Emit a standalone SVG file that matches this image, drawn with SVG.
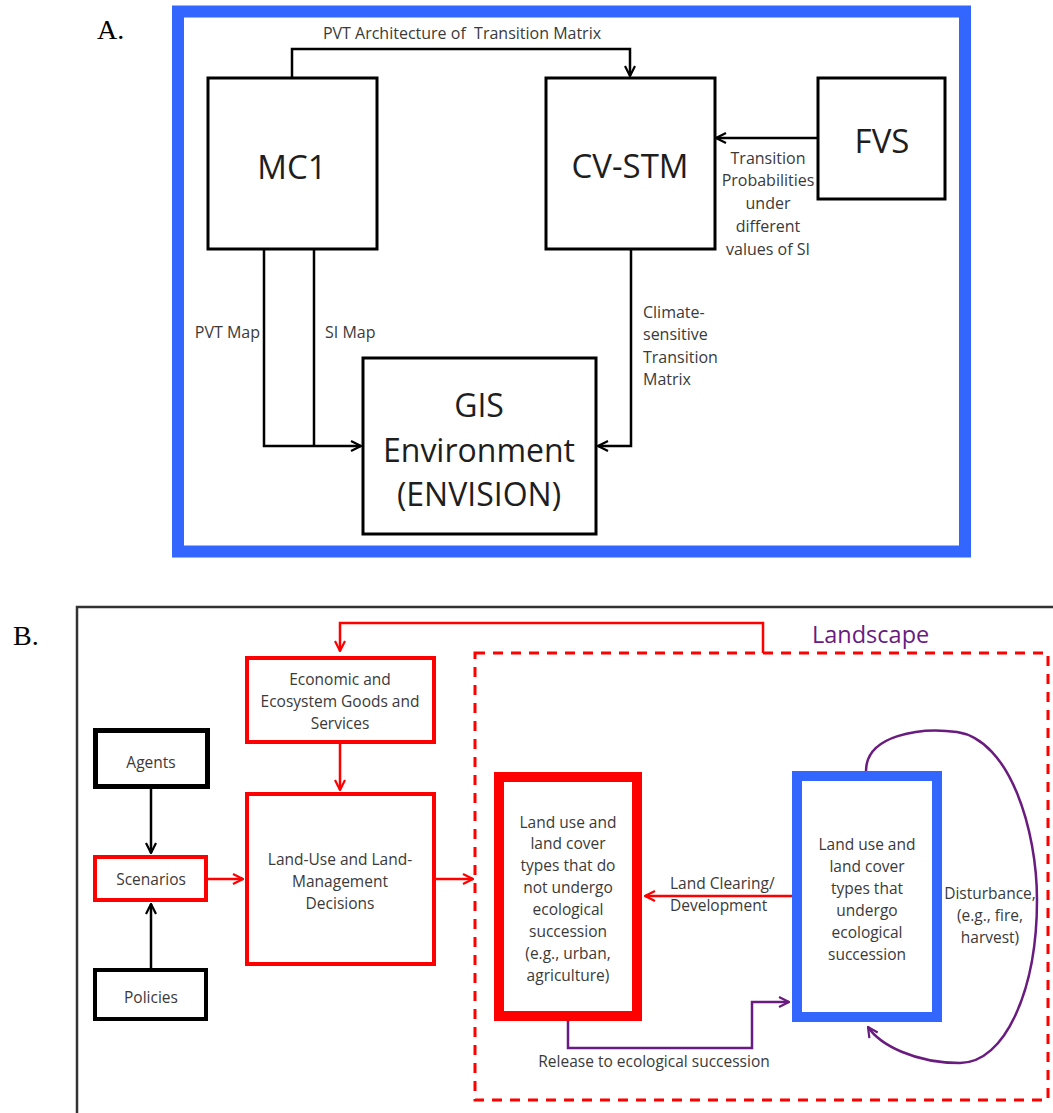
<svg xmlns="http://www.w3.org/2000/svg" width="1053" height="1113" viewBox="0 0 1053 1113">
<style>
.t{font-family:"Open Sans","Liberation Sans",sans-serif;fill:#3a3a3a;font-size:16px;text-anchor:middle}
.big{font-size:33px;fill:#1e1e1e}
.gis{font-size:32px;fill:#1e1e1e}
.lbl{font-family:"Liberation Serif",serif;font-size:28px;fill:#000}
.bx{fill:#fff;stroke:#000;stroke-width:3}
.rb{fill:#fff;stroke:#ff0000;stroke-width:4}
.k{fill:none;stroke:#000;stroke-width:2.5}
.r{fill:none;stroke:#ff0000;stroke-width:2.5}
.p{fill:none;stroke:#6a1b7f;stroke-width:2.5}
</style>
<defs>
<marker id="ak" viewBox="0 0 12 12" refX="11" refY="6" markerWidth="12" markerHeight="12" markerUnits="userSpaceOnUse" orient="auto"><path d="M1,1 L11,6 L1,11" fill="none" stroke="#000" stroke-width="2.2"/></marker>
<marker id="ar" viewBox="0 0 12 12" refX="11" refY="6" markerWidth="12" markerHeight="12" markerUnits="userSpaceOnUse" orient="auto"><path d="M1,1 L11,6 L1,11" fill="none" stroke="#ff0000" stroke-width="2.2"/></marker>
<marker id="ap" viewBox="0 0 12 12" refX="11" refY="6" markerWidth="12" markerHeight="12" markerUnits="userSpaceOnUse" orient="auto"><path d="M1,1 L11,6 L1,11" fill="none" stroke="#6a1b7f" stroke-width="2.2"/></marker>
</defs>
<rect width="1053" height="1113" fill="#fff"/>

<!-- Part A -->
<text class="lbl" x="97" y="39">A.</text>
<rect id="frameA" x="178" y="11.5" width="787" height="540" fill="none" stroke="#3366ff" stroke-width="12"/>

<g id="connectorsA">
<path class="k" d="M292 78 V49 H630 V76" marker-end="url(#ak)"/>
<path class="k" d="M264 248 V446 H361" marker-end="url(#ak)"/>
<path class="k" d="M314 248 V446"/>
<path class="k" d="M631 248 V446 H598" marker-end="url(#ak)"/>
<path class="k" d="M818 138 H716" marker-end="url(#ak)"/>
<text class="t" x="462" y="39" style="white-space:pre">PVT Architecture of  Transition Matrix</text>
<text class="t" x="260" y="338" text-anchor="end" style="text-anchor:end">PVT Map</text>
<text class="t" x="325" y="338" style="text-anchor:start">SI Map</text>
<text class="t" style="text-anchor:start"><tspan x="643" y="318">Climate-</tspan><tspan x="643" y="340">sensitive</tspan><tspan x="643" y="363">Transition</tspan><tspan x="643" y="385">Matrix</tspan></text>
<text class="t"><tspan x="768" y="164">Transition</tspan><tspan x="768" y="186">Probabilities</tspan><tspan x="768" y="209">under</tspan><tspan x="768" y="232">different</tspan><tspan x="768" y="255">values of SI</tspan></text>
</g>

<g id="MC1"><rect class="bx" x="208" y="78" width="169" height="171"/><text class="t big" x="292" y="179">MC1</text></g>
<g id="CVSTM"><rect class="bx" x="546" y="78" width="169" height="171"/><text class="t big" x="630" y="178">CV-STM</text></g>
<g id="FVS"><rect class="bx" x="818" y="78" width="127" height="121"/><text class="t big" x="882" y="153">FVS</text></g>
<g id="GIS"><rect class="bx" x="363" y="358" width="233" height="176"/><text class="t gis"><tspan x="479" y="417">GIS</tspan><tspan x="479" y="462">Environment</tspan><tspan x="479" y="506">(ENVISION)</tspan></text></g>

<!-- Part B -->
<text class="lbl" x="13" y="645">B.</text>
<rect id="frameB" x="77" y="607" width="1000" height="520" fill="none" stroke="#333" stroke-width="2.5"/>

<g id="landscape">
<rect x="475" y="653" width="573" height="447" fill="none" stroke="#ff0000" stroke-width="3" stroke-dasharray="10 8"/>
<text class="t" x="812" y="643" style="text-anchor:start;font-size:23.5px;fill:#6a1b7f">Landscape</text>
</g>

<g id="connectorsB">
<path class="r" d="M763 653 V623 H340 V651" marker-end="url(#ar)"/>
<path class="r" d="M340 743 V790" marker-end="url(#ar)"/>
<path class="k" d="M151 789 V853" marker-end="url(#ak)"/>
<path class="k" d="M151 968 V904" marker-end="url(#ak)"/>
<path class="r" d="M208 879 H243" marker-end="url(#ar)"/>
<path class="r" d="M436 879 H473" marker-end="url(#ar)"/>
<path class="r" d="M792 896 H645" marker-end="url(#ar)"/>
<text class="t" style="text-anchor:start;font-size:15.5px"><tspan x="670" y="889">Land Clearing/</tspan><tspan x="670" y="911">Development</tspan></text>
<path class="p" d="M568 1021 V1048 H752 V1002 H789" marker-end="url(#ap)"/>
<text class="t" x="654" y="1067" style="font-size:15.5px">Release to ecological succession</text>
<path class="p" d="M866 771 C866 735,920 727,957 732 C1010 740,1037 830,1037 900 C1037 990,1005 1063,960 1063 C915 1063,880 1045,868 1027" marker-end="url(#ap)"/>
<text class="t" style="font-size:15.5px"><tspan x="990" y="899">Disturbance,</tspan><tspan x="990" y="921">(e.g., fire,</tspan><tspan x="990" y="943">harvest)</tspan></text>
</g>

<g id="econ"><rect class="rb" x="247" y="658" width="187" height="84"/><text class="t" style="font-size:15.5px"><tspan x="340" y="685">Economic and</tspan><tspan x="340" y="707">Ecosystem Goods and</tspan><tspan x="340" y="729">Services</tspan></text></g>
<g id="landuse"><rect class="rb" x="247" y="794" width="187" height="170"/><text class="t" style="font-size:15.5px"><tspan x="340" y="865">Land-Use and Land-</tspan><tspan x="340" y="887">Management</tspan><tspan x="340" y="909">Decisions</tspan></text></g>
<g id="agents"><rect x="95.5" y="730.5" width="112" height="56" fill="#fff" stroke="#000" stroke-width="5"/><text class="t" x="151" y="768" style="font-size:15.5px">Agents</text></g>
<g id="scenarios"><rect class="rb" x="95" y="857" width="111" height="43"/><text class="t" x="151" y="885" style="font-size:15.5px">Scenarios</text></g>
<g id="policies"><rect x="95" y="970" width="111" height="49" fill="#fff" stroke="#000" stroke-width="4"/><text class="t" x="151" y="1003" style="font-size:15.5px">Policies</text></g>
<g id="nonsucc"><rect x="499" y="777" width="138" height="239" fill="#fff" stroke="#ff0000" stroke-width="10"/><text class="t" style="font-size:15.5px"><tspan x="568" y="828">Land use and</tspan><tspan x="568" y="849">land cover</tspan><tspan x="568" y="871">types that do</tspan><tspan x="568" y="893">not undergo</tspan><tspan x="568" y="915">ecological</tspan><tspan x="568" y="937">succession</tspan><tspan x="568" y="959">(e.g., urban,</tspan><tspan x="568" y="981">agriculture)</tspan></text></g>
<g id="succ"><rect x="797" y="776" width="140" height="241" fill="#fff" stroke="#3366ff" stroke-width="10"/><text class="t" style="font-size:15.5px"><tspan x="867" y="850">Land use and</tspan><tspan x="867" y="872">land cover</tspan><tspan x="867" y="894">types that</tspan><tspan x="867" y="916">undergo</tspan><tspan x="867" y="938">ecological</tspan><tspan x="867" y="960">succession</tspan></text></g>
</svg>
